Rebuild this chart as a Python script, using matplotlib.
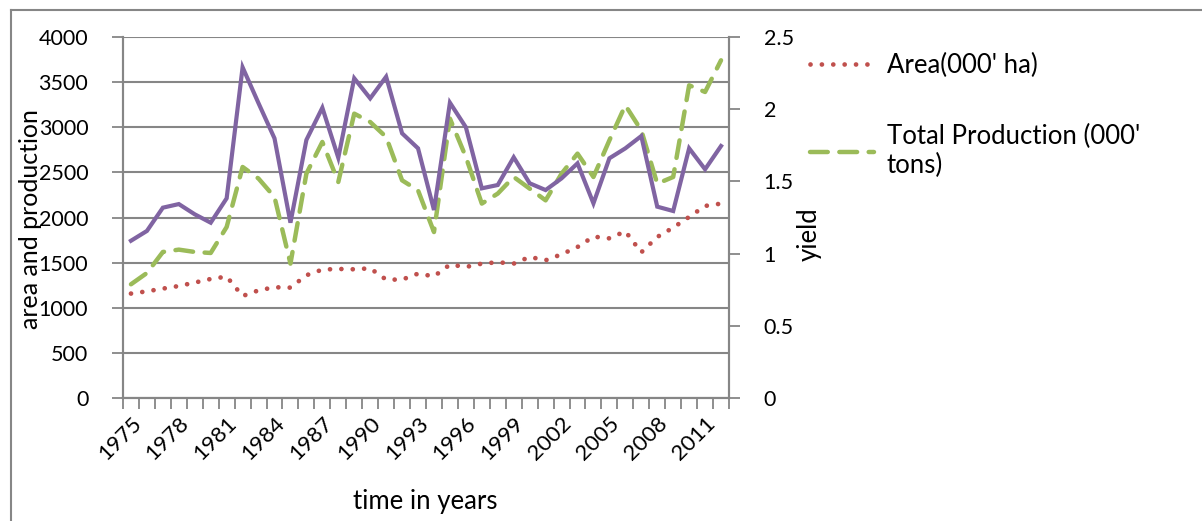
import matplotlib
matplotlib.use("Agg")
import matplotlib.pyplot as plt
from matplotlib.lines import Line2D
import numpy as np

years = list(range(1975, 2013))
area = [1157, 1182, 1212, 1241, 1279, 1319, 1345, 1130, 1193, 1227, 1223, 1360, 1423, 1430,
        1426, 1437, 1312, 1312, 1378, 1348, 1478, 1452, 1489, 1504, 1489, 1563, 1526, 1592,
        1673, 1788, 1769, 1847, 1614, 1784, 1888, 2006, 2128, 2154]
production = [1260, 1385, 1618, 1644, 1618, 1607, 1895, 2560, 2431, 2227, 1489, 2486, 2837,
              2393, 3151, 3058, 2892, 2412, 2301, 1839, 3096, 2670, 2154, 2265, 2449, 2320,
              2190, 2486, 2708, 2449, 2855, 3243, 2966, 2375, 2449, 3465, 3391, 3742]
yield_ = [1.089, 1.157, 1.318, 1.343, 1.272, 1.214, 1.383, 2.290, 2.041, 1.798, 1.214, 1.787,
          2.010, 1.664, 2.214, 2.075, 2.225, 1.833, 1.729, 1.302, 2.045, 1.875, 1.452, 1.475,
          1.667, 1.487, 1.440, 1.521, 1.625, 1.348, 1.660, 1.729, 1.814, 1.325, 1.295, 1.729,
          1.584, 1.745]

FONT = ["Lato", "DejaVu Sans"]
plt.rcParams["font.family"] = FONT
GRAY = "#868686"
TICK_FS = 15.5
TEXT_FS = 18.5

W, H = 1202, 521
fig = plt.figure(figsize=(W / 100, H / 100), dpi=100)
ax = fig.add_axes([123 / W, 1 - 398 / H, (729 - 123) / W, (398 - 37) / H])
ax2 = ax.twinx()

x = np.arange(len(years))
ax.plot(x, area, color="#C0504D", lw=3.4, linestyle=(0, (0.01, 2.4)),
        dash_capstyle="round", label="Area(000' ha)", zorder=3)
ax.plot(x, production, color="#9BBB59", lw=3.2, linestyle=(0, (4.0, 2.6)),
        dash_capstyle="round", label="Total Production (000'\ntons)", zorder=3)
ax2.plot(x, yield_, color="#8064A2", lw=3.0, solid_joinstyle="miter", zorder=3)

ax.set_xlim(-0.5, len(years) - 0.5)
ax.set_ylim(0, 4000)
ax2.set_ylim(0, 2.5)
ax.set_yticks(np.arange(0, 4001, 500))
ax2.set_yticks(np.arange(0, 2.51, 0.5))
ax2.set_yticklabels(["0", "0.5", "1", "1.5", "2", "2.5"])

ax.grid(axis="y", color=GRAY, lw=1.5)
ax.set_axisbelow(True)

label_idx = list(range(0, len(years), 3))
ax.set_xticks(label_idx)
ax.set_xticklabels([str(years[i]) for i in label_idx], rotation=45, ha="right",
                   rotation_mode="anchor", fontsize=16)
ax.set_xticks(np.arange(-0.5, len(years), 1.0), minor=True)
ax.tick_params(axis="x", which="major", length=0, pad=11)
ax.tick_params(axis="x", which="minor", length=8, width=1.3, color=GRAY, direction="out")
ax.tick_params(axis="y", length=8, width=1.3, color=GRAY, labelsize=TICK_FS, pad=17)
ax2.tick_params(axis="y", length=8, width=1.3, color=GRAY, labelsize=TICK_FS, pad=17)

for a in (ax, ax2):
    a.spines["top"].set_visible(False)
    for s in ("left", "right", "bottom"):
        a.spines[s].set_color(GRAY)
        a.spines[s].set_linewidth(1.5)

fig.text(31 / W, 1 - 219 / H, "area and production", rotation=90, fontsize=18,
         ha="center", va="center")
fig.text(809 / W, 1 - 234 / H, "yield", rotation=90, fontsize=TEXT_FS,
         ha="center", va="center")
fig.text(425 / W, 1 - 501 / H, "time in years", fontsize=TEXT_FS, ha="center", va="center")

leg = fig.legend(handles=ax.get_lines(), loc="upper left",
                 bbox_to_anchor=(802 / W, 1 - 45 / H), frameon=False, fontsize=TEXT_FS,
                 handlelength=2.5, handletextpad=0.5, labelspacing=1.8,
                 borderaxespad=0, borderpad=0.3)

# outer chart border
fig.add_artist(Line2D([11 / W, 11 / W], [0, 1 - 10 / H], color=GRAY, lw=1.5,
                      transform=fig.transFigure))
fig.add_artist(Line2D([11 / W, 1], [1 - 10 / H, 1 - 10 / H], color=GRAY, lw=1.5,
                      transform=fig.transFigure))

fig.savefig("out.png", dpi=100, facecolor="white")
